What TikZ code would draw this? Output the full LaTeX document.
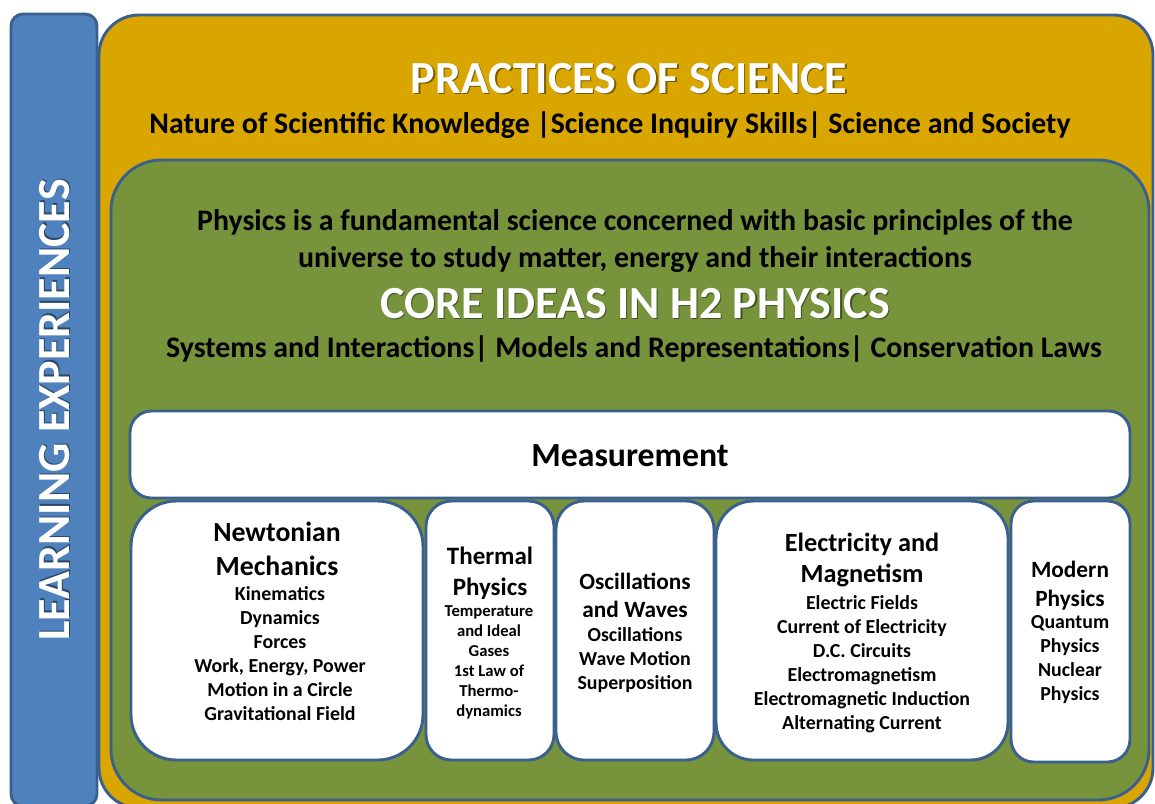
\documentclass[tikz,border=0pt]{standalone}
\usepackage{fontspec}
\setmainfont{Carlito}
\usetikzlibrary{fit}
\definecolor{lexblue}{HTML}{4F81BD}
\definecolor{edgeblue}{HTML}{3B6090}
\definecolor{practgold}{HTML}{D9A600}
\definecolor{coregreen}{HTML}{77933C}
% white headings get a soft offset copy underneath
\newcommand\castshadow[2]{\rlap{\kern1.1pt\raisebox{-1.1pt}{\color{#1}#2}}#2}

\begin{document}
\begin{tikzpicture}[x=0.75pt,y=-0.75pt,
	panel/.style={draw=edgeblue,line width=2.2pt,inner sep=0pt},
	topic/.style={panel,fill=white},
	bigcaps/.style={text=white,font=\bfseries\fontsize{34.5}{41}\selectfont},
	lead/.style={font=\bfseries\fontsize{22.4}{27.75}\selectfont,align=center},
	ttl/.style 2 args={anchor=north,inner sep=0pt,align=center,font=\bfseries\fontsize{#1}{#2}\selectfont},
	itm/.style={anchor=north,inner sep=0pt,align=center,font=\bfseries\fontsize{14.9}{18}\selectfont}]
	\useasboundingbox (0,0) rectangle (1155,803);

	\node[panel,fill=lexblue,rounded corners=9pt,fit={(11,14)(97,806)}] (learn) {};
	\node[panel,fill=practgold,rounded corners=30pt,fit={(99,15)(1153,808)}] (practice) {};
	\node[panel,fill=coregreen,rounded corners=38pt,fit={(111,160)(1149,800)}] (core) {};
	\node[topic,rounded corners=16pt,fit={(130,411)(1130,498)}] (measure) {};
	\node[topic,rounded corners=34pt,fit={(131,501)(423,760)}] (mech) {};
	\node[topic,rounded corners=19pt,fit={(426,501)(554,760)}] (thermal) {};
	\node[topic,rounded corners=21pt,fit={(556,501)(714,760)}] (waves) {};
	\node[topic,rounded corners=28pt,fit={(716,501)(1008,760)}] (emag) {};
	\node[topic,rounded corners=17pt,fit={(1011,501)(1130,762)}] (modern) {};

	\node[bigcaps,rotate=90] (learntxt) at (55,410) {\castshadow{lexblue!55!black}{LEARNING EXPERIENCES}};
	\node[bigcaps,anchor=base] (practtxt) at (629,93) {\castshadow{practgold!55!black}{PRACTICES OF SCIENCE}};
	\node[lead,anchor=base] (practsub) at (610,133) {Nature of Scientific Knowledge |Science Inquiry Skills| Science and Society};
	\node[lead,anchor=north,inner sep=0pt] (physdef) at (635,209) {Physics is a fundamental science concerned with basic principles of the\\universe to study matter, energy and their interactions};
	\node[bigcaps,anchor=base] (coretxt) at (635,318) {\castshadow{coregreen!55!black}{CORE IDEAS IN H2 PHYSICS}};
	\node[lead,anchor=base] (coresub) at (634,357) {Systems and Interactions| Models and Representations| Conservation Laws};
	\node[anchor=base,font=\bfseries\fontsize{25.3}{30}\selectfont] (measuretxt) at (630,466) {Measurement};

	\node[ttl={20.8}{25.5}] (mechttl) at (277,522) {Newtonian\\Mechanics};
	\node[itm] (mechitm) at (280,586) {Kinematics\\Dynamics\\Forces\\Work, Energy, Power\\Motion in a Circle\\Gravitational Field};

	\node[ttl={18.75}{23.25}] (thermttl) at (490,547) {Thermal\\Physics};
	\node[itm,font=\bfseries\fontsize{12.5}{15}\selectfont] (thermitm) at (489,605) {Temperature\\and Ideal\\Gases\\1st Law of\\Thermo-\\dynamics};

	\node[ttl={17.5}{21}] (wavesttl) at (635,573) {Oscillations\\and Waves};
	\node[itm] (wavesitm) at (635,627) {Oscillations\\Wave Motion\\Superposition};

	\node[ttl={19.7}{23.25}] (emagttl) at (862,533) {Electricity and\\Magnetism};
	\node[itm] (emagitm) at (862,595) {Electric Fields\\Current of Electricity\\D.C. Circuits\\Electromagnetism\\Electromagnetic Induction\\Alternating Current};

	\node[ttl={17.5}{21.75}] (modernttl) at (1070,561) {Modern\\Physics};
	\node[itm] (modernitm) at (1070,615) {Quantum\\Physics\\Nuclear\\Physics};
\end{tikzpicture}
\end{document}
